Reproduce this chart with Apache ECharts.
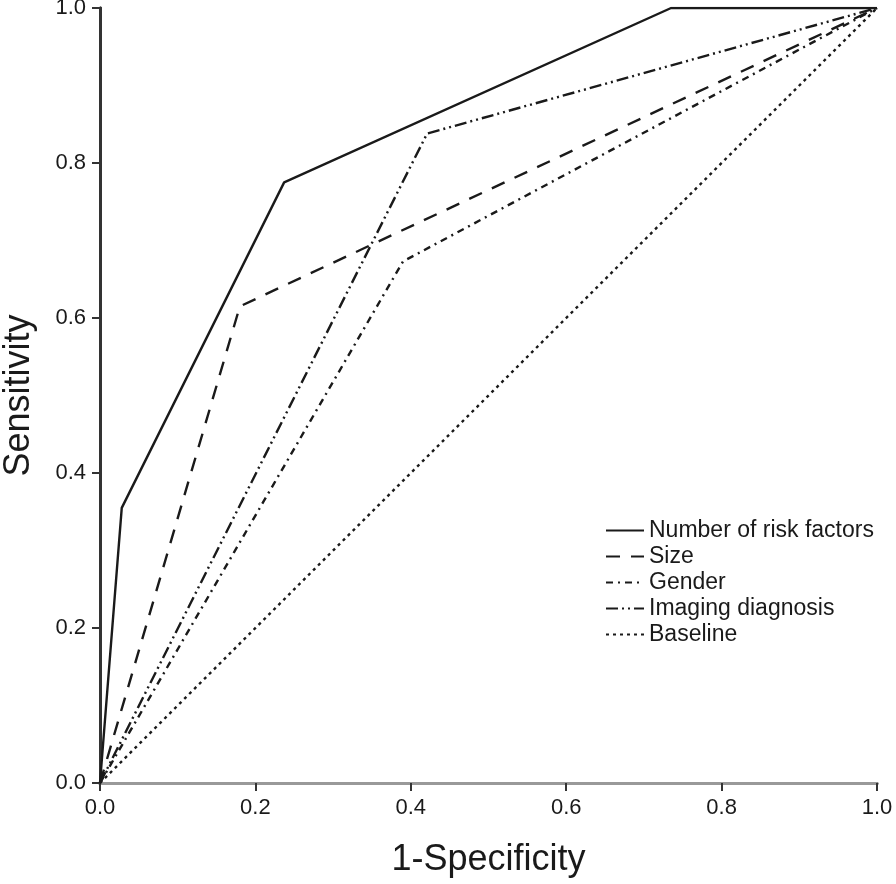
<!DOCTYPE html>
<html>
<head>
<meta charset="utf-8">
<script src="https://cdn.jsdelivr.net/npm/echarts@6/dist/echarts.min.js"></script>
<style>
  html, body { margin: 0; padding: 0; background: #fff; }
  #chart { width: 896px; height: 884px; }
</style>
</head>
<body>
<div id="chart"></div>
<script>
// ROC curves: [1-specificity, sensitivity]
const riskFactors = [[0, 0], [0.028, 0.355], [0.237, 0.775], [0.735, 1.0], [1, 1]];
const sizeCurve = [[0, 0], [0.18, 0.615], [1, 1]];
const genderCurve = [[0, 0], [0.39, 0.673], [1, 1]];
const imagingCurve = [[0, 0], [0.421, 0.838], [1, 1]];
const baseline = [[0, 0], [1, 1]];
const seriesNames = ['Number of risk factors', 'Size', 'Gender', 'Imaging diagnosis', 'Baseline'];

const chart = echarts.init(document.getElementById('chart'));

const axisFont = { fontFamily: 'Liberation Sans, Arial, sans-serif', color: '#1a1a1a' };

const mkLine = (name, data, type) => ({
  name: name,
  type: 'line',
  data: data,
  symbol: 'none',
  lineStyle: { color: '#1a1a1a', width: 2.4, type: type },
  itemStyle: { color: '#1a1a1a' },
  animation: false
});

const option = {
  backgroundColor: '#fff',
  grid: { left: 100, right: 19, top: 8, bottom: 101, outerBoundsMode: 'none', containLabel: false },
  legend: {
    orient: 'vertical',
    left: 605,
    top: 519,
    padding: 0,
    itemGap: 3,
    itemWidth: 38,
    itemHeight: 20,
    itemStyle: { opacity: 0 },
    data: seriesNames,
    textStyle: { fontSize: 23, fontFamily: 'Liberation Sans, Arial, sans-serif', color: '#1a1a1a' }
  },
  xAxis: [
    {
      type: 'value', min: 0, max: 1, interval: 0.2,
      name: '1-Specificity', nameLocation: 'middle', nameGap: 59,
      nameTextStyle: { ...axisFont, fontSize: 36 },
      axisLine: { lineStyle: { color: '#333', width: 3 } },
      axisTick: { length: 8, lineStyle: { color: '#333', width: 2 } },
      axisLabel: { ...axisFont, fontSize: 22, margin: 14, formatter: v => v.toFixed(1) },
      splitLine: { show: false }
    },
    {
      type: 'value', min: 0, max: 1, position: 'top',
      axisLine: { show: true, lineStyle: { color: '#999', width: 3 } },
      axisTick: { show: false }, axisLabel: { show: false }, splitLine: { show: false }
    }
  ],
  yAxis: [
    {
      type: 'value', min: 0, max: 1, interval: 0.2,
      name: 'Sensitivity', nameLocation: 'middle', nameGap: 63,
      nameTextStyle: { ...axisFont, fontSize: 36 },
      axisLine: { show: true, lineStyle: { color: '#333', width: 3 } },
      axisTick: { show: true, length: 8, lineStyle: { color: '#333', width: 2 } },
      axisLabel: { ...axisFont, fontSize: 22, margin: 14, formatter: v => v.toFixed(1) },
      splitLine: { show: false }
    },
    {
      type: 'value', min: 0, max: 1, position: 'right',
      axisLine: { show: true, lineStyle: { color: '#333', width: 3 } },
      axisTick: { show: false }, axisLabel: { show: false }, splitLine: { show: false }
    }
  ],
  series: [
    mkLine(seriesNames[0], riskFactors, 'solid'),
    mkLine(seriesNames[1], sizeCurve, [14, 11]),
    mkLine(seriesNames[2], genderCurve, [7, 5, 2, 5]),
    mkLine(seriesNames[3], imagingCurve, [12, 4, 2, 4, 2, 4]),
    mkLine(seriesNames[4], baseline, [3, 4])
  ]
};

chart.setOption(option);
</script>
</body>
</html>
